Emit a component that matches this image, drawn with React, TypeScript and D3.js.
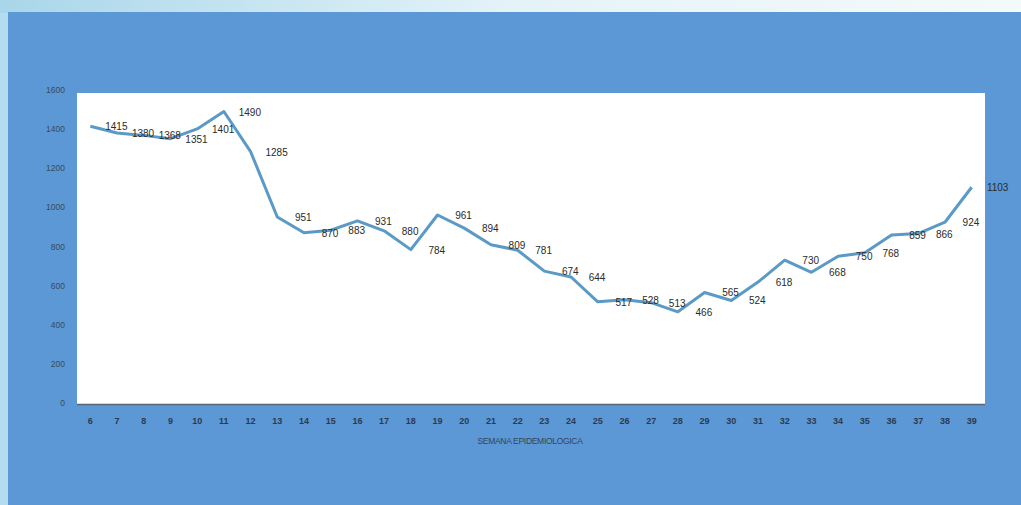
import React from "react";
import * as d3 from "d3";

const weeks: number[] = [6,7,8,9,10,11,12,13,14,15,16,17,18,19,20,21,22,23,24,25,26,27,28,29,30,31,32,33,34,35,36,37,38,39];
const cases: number[] = [1415,1380,1368,1351,1401,1490,1285,951,870,883,931,880,784,961,894,809,781,674,644,517,528,513,466,565,524,618,730,668,750,768,859,866,924,1103];
const yTicks: number[] = [0,200,400,600,800,1000,1200,1400,1600];
const xTitle = "SEMANA EPIDEMIOLOGICA";

const W = 1021, H = 505;
const plot = { left: 77, right: 985, top: 93, bottom: 404 };

export default function App() {
  const x = d3.scaleBand<number>().domain(weeks).range([plot.left, plot.right]);
  const cx = (w: number) => (x(w) as number) + x.bandwidth() / 2;
  const y = d3.scaleLinear().domain([0, 1600]).range([plot.bottom - 1, plot.top - 3]);
  const line = d3.line<number>().x((_, i) => cx(weeks[i])).y((d) => y(d));

  return (
    <svg width={W} height={H} style={{ position: "absolute", left: 0, top: 0 }}>
      <defs>
        <linearGradient id="top" x1="0" x2="1" y1="0" y2="0">
          <stop offset="0" stopColor="#a9d6ea" />
          <stop offset="0.5" stopColor="#e4f3f8" />
          <stop offset="1" stopColor="#f4fafb" />
        </linearGradient>
      </defs>
      <rect x={0} y={0} width={W} height={H} fill="#b5dcee" />
      <rect x={0} y={0} width={W} height={13} fill="url(#top)" />
      <rect x={8} y={12} width={W - 8} height={H - 12} fill="#5b98d5" />
      <rect x={plot.left} y={plot.top} width={plot.right - plot.left} height={plot.bottom - plot.top} fill="#ffffff" />
      <line x1={plot.left} x2={plot.right} y1={plot.bottom + 0.5} y2={plot.bottom + 0.5} stroke="#5a6470" strokeWidth={1.5} />
      {yTicks.map((t) => (
        <text key={t} x={65} y={y(t) + 3} textAnchor="end" fontFamily="Liberation Sans, Arial, sans-serif" fontSize={8.5} fill="#3a4a60">{t}</text>
      ))}
      {weeks.map((w) => (
        <text key={w} x={cx(w)} y={424} textAnchor="middle" fontFamily="Liberation Sans, Arial, sans-serif" fontSize={9} fontWeight="bold" fill="#2c3a50">{w}</text>
      ))}
      <text x={530} y={444} textAnchor="middle" fontFamily="Liberation Sans, Arial, sans-serif" fontSize={8.5} fill="#34445a" letterSpacing={-0.3}>{xTitle}</text>
      <path d={line(cases) || ""} fill="none" stroke="#5b9ac6" strokeWidth={3} strokeLinejoin="round" />
      {cases.map((v, i) => (
        <text key={i} x={cx(weeks[i]) + 26} y={y(v) + 4} textAnchor="middle" fontFamily="Liberation Sans, Arial, sans-serif" fontSize={10} fill="#2a2a2a">{v}</text>
      ))}
    </svg>
  );
}
